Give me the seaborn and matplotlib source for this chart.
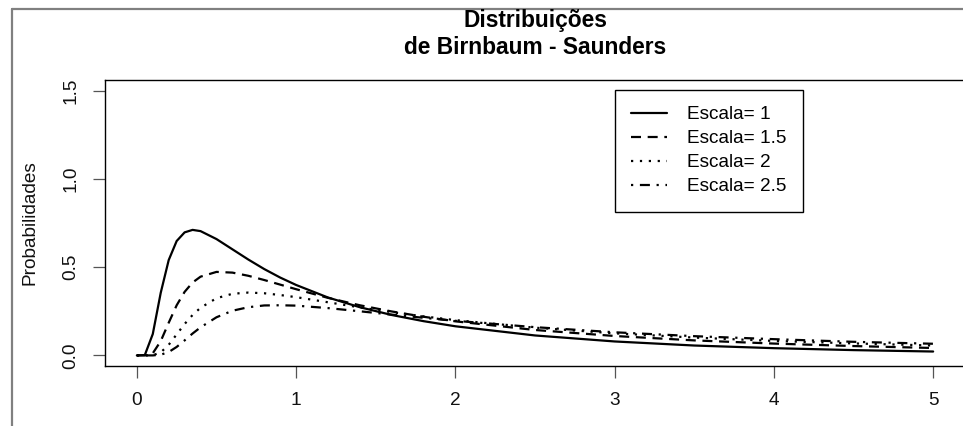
import matplotlib
matplotlib.use("Agg")
import matplotlib.pyplot as plt
from matplotlib.lines import Line2D
import seaborn as sns
import pandas as pd

# ---- data ----
x_vals = [0, 0.05, 0.1, 0.15, 0.2, 0.25, 0.3, 0.35, 0.4, 0.5, 0.6, 0.7, 0.8, 0.9,
          1.0, 1.2, 1.4, 1.6, 1.8, 2.0, 2.5, 3.0, 3.5, 4.0, 4.5, 5.0]
escala_1 = [0, 0.002, 0.121, 0.355, 0.540, 0.648, 0.697, 0.711, 0.704, 0.659, 0.601,
            0.543, 0.489, 0.441, 0.399, 0.328, 0.273, 0.229, 0.194, 0.165, 0.113,
            0.079, 0.056, 0.041, 0.030, 0.022]
escala_15 = [0, 0.000, 0.012, 0.081, 0.185, 0.284, 0.360, 0.413, 0.446, 0.473, 0.469,
             0.451, 0.427, 0.401, 0.375, 0.326, 0.284, 0.249, 0.219, 0.193, 0.144,
             0.110, 0.085, 0.067, 0.053, 0.042]
escala_2 = [0, 0.000, 0.001, 0.017, 0.060, 0.119, 0.178, 0.229, 0.270, 0.324, 0.349,
            0.356, 0.352, 0.342, 0.330, 0.301, 0.272, 0.245, 0.221, 0.200, 0.157,
            0.125, 0.101, 0.082, 0.068, 0.056]
escala_25 = [0, 0.000, 0.000, 0.004, 0.019, 0.048, 0.085, 0.124, 0.159, 0.216, 0.253,
             0.273, 0.283, 0.284, 0.282, 0.268, 0.250, 0.231, 0.213, 0.196, 0.160,
             0.131, 0.109, 0.092, 0.077, 0.066]
series_labels = ["Escala= 1", "Escala= 1.5", "Escala= 2", "Escala= 2.5"]
series_values = [escala_1, escala_15, escala_2, escala_25]
x_ticks = [0, 1, 2, 3, 4, 5]
y_ticks = [0.0, 0.5, 1.0, 1.5]
y_tick_labels = ["0.0", "0.5", "1.0", "1.5"]
title_lines = ["Distribuições", "de Birnbaum - Saunders"]
y_label = "Probabilidades"

# ---- styling ----
sns.set_style("white")
plt.rcParams["font.family"] = ["Liberation Sans", "DejaVu Sans"]
plt.rcParams["text.color"] = "black"
plt.rcParams["axes.labelcolor"] = "black"
plt.rcParams["xtick.color"] = "black"
plt.rcParams["ytick.color"] = "black"

W, H = 963, 426
FS = 13.7
fig = plt.figure(figsize=(W / 100, H / 100), dpi=100)
fig.patch.set_facecolor("white")

ax = fig.add_axes([105 / W, (H - 366) / H, 860 / W, (366 - 80) / H])

line_styles = ["-", (0, (4.5, 3)), (0, (1, 3)), (0, (1, 3, 4.5, 3))]

for lab, vals, ls in zip(series_labels, series_values, line_styles):
    df = pd.DataFrame({"x": x_vals, "y": vals})
    sns.lineplot(data=df, x="x", y="y", ax=ax, color="black", linewidth=1.6,
                 linestyle=ls, label=lab, legend=False)

ax.set_xlim(-0.2, 5.2)
ax.set_ylim(-0.06, 1.56)
ax.set_xticks(x_ticks)
ax.set_xticklabels([str(t) for t in x_ticks])
ax.set_yticks(y_ticks)
ax.set_yticklabels(y_tick_labels, rotation=90, va="center", ha="center")
ax.tick_params(axis="both", which="major", bottom=True, left=True, top=False, right=False,
               direction="out", length=8.6, width=0.9, color="#555555",
               labelsize=FS, labelcolor="#111111")
ax.tick_params(axis="x", pad=10)
ax.tick_params(axis="y", pad=16)
ax.set_xlabel("")
ax.set_ylabel(y_label, fontsize=FS, color="#111111")
ax.yaxis.set_label_coords(-0.077, 0.5)
for s in ax.spines.values():
    s.set_color("black")
    s.set_linewidth(1.0)
    s.set_visible(True)
ax.grid(False)

handles, labels = ax.get_legend_handles_labels()
leg = ax.legend(handles, labels, loc="upper left",
                bbox_to_anchor=(615 / W, 1 - 90 / H), bbox_transform=fig.transFigure,
                fontsize=FS, frameon=True, fancybox=False, shadow=False,
                edgecolor="black", framealpha=1, borderpad=0.85, handlelength=1.9,
                handletextpad=1.06, labelspacing=0.35, borderaxespad=0)
leg.get_frame().set_linewidth(1.0)

fig.text(535 / W, 1 - 21 / H, title_lines[0], ha="center", va="center",
         fontsize=16.4, fontweight="bold", color="black")
fig.text(535 / W, 1 - 47 / H, title_lines[1], ha="center", va="center",
         fontsize=16.4, fontweight="bold", color="black")

# outer frame of the screenshot
fig.add_artist(Line2D([12 / W, 1], [1 - 9 / H, 1 - 9 / H], transform=fig.transFigure,
                      color="#808080", linewidth=1.6))
fig.add_artist(Line2D([12 / W, 12 / W], [0, 1 - 9 / H], transform=fig.transFigure,
                      color="#808080", linewidth=1.6))

fig.savefig("out.png", dpi=100)
